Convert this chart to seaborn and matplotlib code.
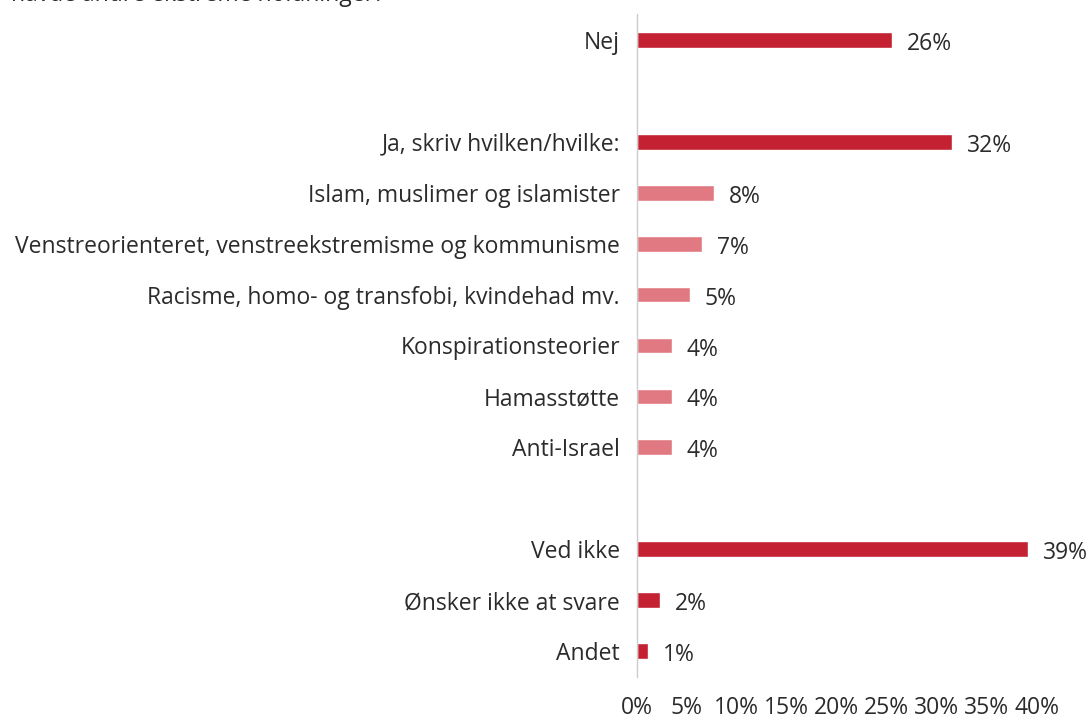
import matplotlib
matplotlib.use("Agg")
import matplotlib.pyplot as plt
import seaborn as sns
import pandas as pd

# Data (blank entries are spacer rows)
categories = ["Nej", " ", "Ja, skriv hvilken/hvilke:", "Islam, muslimer og islamister",
              "Venstreorienteret, venstreekstremisme og kommunisme",
              "Racisme, homo- og transfobi, kvindehad mv.", "Konspirationsteorier",
              "Hamasstøtte", "Anti-Israel", "  ", "Ved ikke", "Ønsker ikke at svare", "Andet"]
values = [25.5, 0, 31.5, 7.7, 6.5, 5.3, 3.5, 3.5, 3.5, 0, 39.1, 2.3, 1.1]
value_labels = ["26%", "", "32%", "8%", "7%", "5%", "4%", "4%", "4%", "", "39%", "2%", "1%"]
kind = ["main", "gap", "main", "sub", "sub", "sub", "sub", "sub", "sub", "gap", "main", "main", "main"]

dark_red = "#C42132"
light_red = "#E07981"
colors = {"main": dark_red, "sub": light_red, "gap": "white"}

df = pd.DataFrame({"cat": categories, "val": values})
palette = {c: colors[k] for c, k in zip(categories, kind)}

sns.set_style("white")
plt.rcParams['font.family'] = ['Open Sans', 'DejaVu Sans']
text_color = "#2b2b2b"
fs = 16.5

fig = plt.figure(figsize=(10.9, 7.22), dpi=100)
ax = fig.add_axes([0.584, 0.063, 0.367, 0.917])

sns.barplot(data=df, y="cat", x="val", hue="cat", palette=palette, legend=False,
            orient="h", width=0.31, ax=ax, saturation=1)

for i, (v, lab) in enumerate(zip(values, value_labels)):
    if lab:
        ax.text(v + 1.5, i + 0.08, lab, va="center", ha="left", fontsize=fs, color=text_color)

ax.set_xlim(0, 40)
ax.set_ylim(12.5, -0.5)
ax.set_xticks(range(0, 41, 5))
ax.set_xticklabels([f"{t}%" for t in range(0, 41, 5)])
ax.set_xlabel("")
ax.set_ylabel("")
ax.tick_params(axis="x", length=0, pad=14, labelsize=fs, labelcolor=text_color)
ax.tick_params(axis="y", length=0, pad=12, labelsize=fs, labelcolor=text_color)

for s in ["top", "right", "bottom"]:
    ax.spines[s].set_visible(False)
ax.spines["left"].set_color("#cccccc")
ax.spines["left"].set_linewidth(1)

fig.text(0.01, 1 - 1 / 722, "havde andre ekstreme holdninger?", fontsize=fs,
         color=text_color, va="baseline", ha="left")

fig.savefig("out.png", dpi=100)
